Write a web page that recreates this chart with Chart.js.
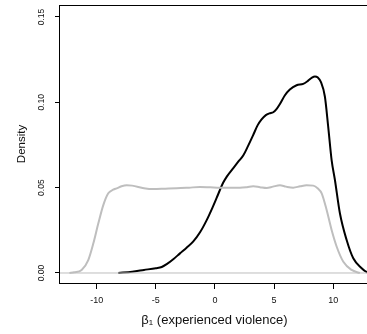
<!DOCTYPE html>
<html>
<head>
<meta charset="utf-8">
<script src="https://cdn.jsdelivr.net/npm/chart.js@4/dist/chart.umd.min.js"></script>
<style>
  html, body { margin: 0; padding: 0; background: #fff; overflow: hidden; }
  #wrap { width: 367px; height: 334px; overflow: hidden; }
  #chart { display: block; }
</style>
</head>
<body>
<div id="wrap"><canvas id="chart" width="370" height="334"></canvas></div>
<script>
// posterior density of beta_1 (black) against the prior (gray)
const posteriorX = [-8.17, -7.0, -6.0, -5.0, -4.5, -4.08, -3.5, -2.96, -2.4, -1.83, -1.25, -0.7, -0.2, 0.14, 0.7, 1.0, 1.55, 2.0, 2.4, 2.8, 3.24, 3.6, 3.94, 4.3, 4.6, 4.93, 5.2, 5.49, 5.9, 6.33, 6.9, 7.46, 7.88, 8.2, 8.45, 8.7, 8.95, 9.29, 9.57, 9.86, 10.14, 10.56, 11.13, 11.69, 12.4, 12.8, 13.02];
const posteriorY = [0.0, 0.0008, 0.0018, 0.0028, 0.0035, 0.0052, 0.0082, 0.0115, 0.0148, 0.0185, 0.024, 0.031, 0.0385, 0.044, 0.053, 0.0565, 0.0615, 0.0655, 0.069, 0.0745, 0.081, 0.0865, 0.09, 0.0925, 0.0935, 0.0942, 0.096, 0.099, 0.104, 0.1075, 0.11, 0.1108, 0.1127, 0.1145, 0.1152, 0.1145, 0.112, 0.1034, 0.0858, 0.0662, 0.0545, 0.035, 0.0193, 0.0086, 0.0028, 0.0006, 0.0];

const priorX = [-12.3, -11.9, -11.27, -10.71, -10.28, -9.86, -9.44, -9.02, -8.6, -8.31, -7.9, -7.46, -7.0, -6.0, -5.2, -4.2, -3.24, -2.2, -1.27, -0.4, 0.42, 1.3, 2.11, 2.7, 3.24, 3.8, 4.37, 4.9, 5.49, 6.0, 6.61, 7.2, 7.74, 8.31, 8.7, 9.02, 9.44, 9.86, 10.29, 10.85, 11.55, 12.25];
const priorY = [0.0, 0.0004, 0.0018, 0.0076, 0.0174, 0.0291, 0.0398, 0.0467, 0.0488, 0.0496, 0.0508, 0.0514, 0.0512, 0.0497, 0.0492, 0.0494, 0.0496, 0.05, 0.0504, 0.0502, 0.05, 0.05, 0.05, 0.0503, 0.0508, 0.0503, 0.0498, 0.0506, 0.0514, 0.0506, 0.05, 0.0508, 0.0514, 0.0512, 0.0495, 0.0467, 0.0369, 0.0252, 0.0154, 0.0066, 0.0018, 0.0];

// axis ranges (R pads the data range a bit)
const xRange = [-13.1, 13.02];
const yRange = [-0.00586, 0.15703];

const xTitle = 'β\u2081 (experienced violence)';
const yTitle = 'Density';

function toPoints(xs, ys) {
  return xs.map((x, i) => ({ x: x, y: ys[i] }));
}

// box around the plot region + rotated y tick labels like base R
const framePlugin = {
  id: 'frame',
  afterDraw(chart) {
    const ctx = chart.ctx;
    const a = chart.chartArea;
    ctx.save();
    ctx.strokeStyle = '#000';
    ctx.lineWidth = 1;
    ctx.strokeRect(Math.round(a.left) - 0.5, Math.round(a.top) + 0.5, a.right - a.left, a.bottom - a.top);

    const y = chart.scales.y;
    ctx.fillStyle = '#111';
    ctx.font = '8.5px "Liberation Sans", Arial, sans-serif';
    ctx.textAlign = 'center';
    ctx.textBaseline = 'middle';
    y.ticks.forEach(t => {
      const py = y.getPixelForValue(t.value);
      ctx.save();
      ctx.translate(42, py);
      ctx.rotate(-Math.PI / 2);
      ctx.fillText(t.value.toFixed(2), 0, 0);
      ctx.restore();
    });
    ctx.restore();
  }
};

new Chart(document.getElementById('chart'), {
  type: 'line',
  data: {
    datasets: [
      {
        data: toPoints(xRange, [0, 0]),
        borderColor: '#bebebe',
        borderWidth: 1,
        pointRadius: 0
      },
      {
        data: toPoints(priorX, priorY),
        borderColor: '#bebebe',
        borderWidth: 2,
        pointRadius: 0,
        cubicInterpolationMode: 'monotone'
      },
      {
        data: toPoints(posteriorX, posteriorY),
        borderColor: '#000',
        borderWidth: 2,
        pointRadius: 0,
        cubicInterpolationMode: 'monotone'
      }
    ]
  },
  options: {
    responsive: false,
    animation: false,
    layout: { padding: { top: 5, right: 1, left: 0, bottom: 0 } },
    plugins: { legend: { display: false }, tooltip: { enabled: false } },
    scales: {
      x: {
        type: 'linear',
        min: xRange[0],
        max: xRange[1],
        afterFit: s => { s.height = 51; },
        border: { display: false },
        grid: { drawOnChartArea: false, tickLength: 6, tickColor: '#000', color: '#000' },
        ticks: {
          stepSize: 5,
          includeBounds: false,
          padding: 6,
          color: '#111',
          font: { family: '"Liberation Sans", Arial, sans-serif', size: 9 },
          maxRotation: 0,
          callback: v => String(v)
        },
        title: {
          display: true,
          text: xTitle,
          color: '#111',
          font: { family: '"Liberation Sans", Arial, sans-serif', size: 13 },
          padding: { top: 0, bottom: 6 }
        }
      },
      y: {
        type: 'linear',
        min: yRange[0],
        max: yRange[1],
        afterFit: s => { s.width = 60; },
        border: { display: false },
        grid: { drawOnChartArea: false, tickLength: 5, tickColor: '#000', color: '#000' },
        ticks: { stepSize: 0.05, includeBounds: false, display: false },
        title: {
          display: true,
          text: yTitle,
          color: '#111',
          font: { family: '"Liberation Sans", Arial, sans-serif', size: 11.5 },
          padding: { top: 15, bottom: 0 }
        }
      }
    }
  },
  plugins: [framePlugin]
});
</script>
</body>
</html>
